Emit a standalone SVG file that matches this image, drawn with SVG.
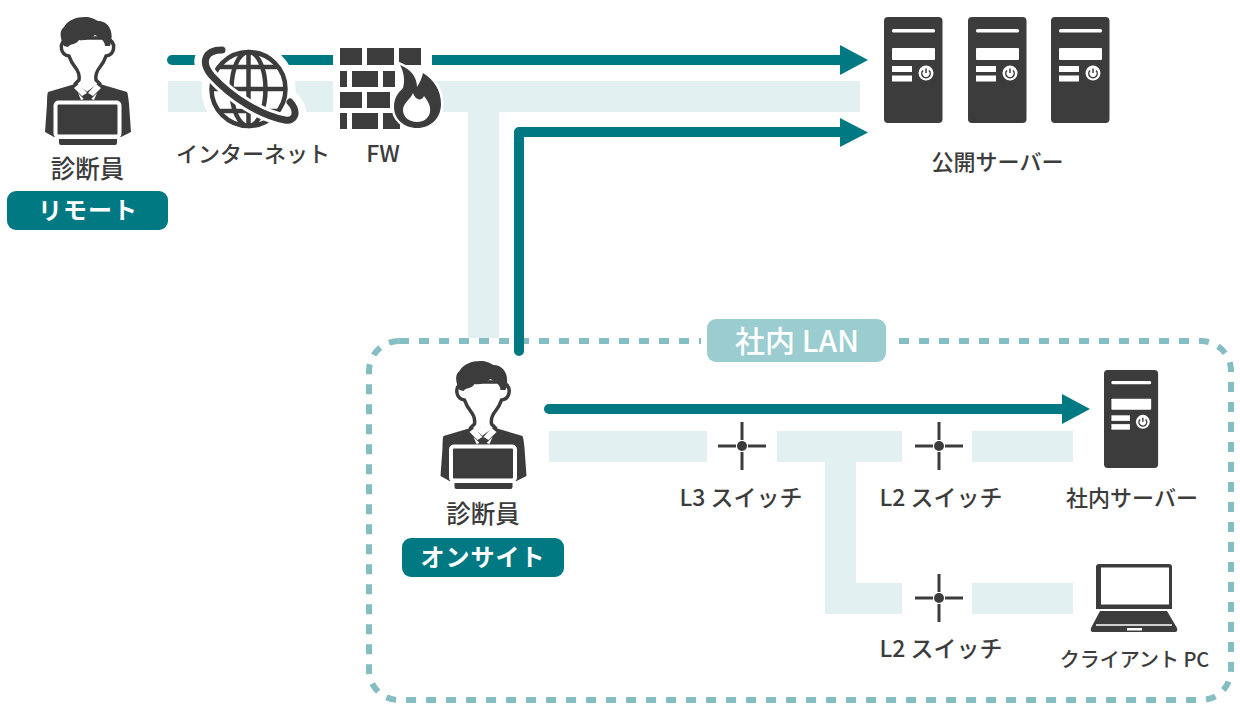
<svg xmlns="http://www.w3.org/2000/svg" xmlns:xlink="http://www.w3.org/1999/xlink" width="1240" height="718" viewBox="0 0 1240 718">
<style>
text{font-family:"Noto Sans CJK JP","Noto Sans",sans-serif;font-weight:500;fill:#3c3c3c;text-anchor:middle}
.lbl{font-size:22px}
.sw{font-size:23px}
.tag{font-size:24px;fill:#fff;font-weight:700;letter-spacing:1px}
.d{fill:#3c3c3c}
.w{fill:#fff}
.band{fill:#e3f0f1}
.flow{fill:none;stroke:#007983;stroke-width:10}
.head{fill:#007983}
.pill{fill:#007983}
</style>
<defs>
<g id="person">
<path class="d" d="M48,92 L75,84 L87,94 L100,84 L127,92 Q128,94 129,104 L131,132 L121,137 H54 L45,132 L47,104 Q47,94 48,92Z"/>
<path class="d" d="M59,139 H117 V143 Q117,145 115,145 H61 Q59,145 59,143Z"/>
<path d="M69,38 Q60,41 61.500,49 Q62.500,55 69,56 Q71,62 75,67 Q80,73 79,80 L75,84 L87,94 L100,84 L96,80 Q95,73 100,67 Q104,62 106,56 Q112.500,55 113.500,49 Q115,41 106,38Z" fill="#fff" stroke="#3c3c3c" stroke-width="3.500" stroke-linejoin="round"/>
<path class="d" d="M64,46 C59,36 60,30 64,27 C68,20 76,17 85,17 C91,17 94,19 98,21 C108,21 115,31 110,46 L105,46 C105,43 103,40 100,38 L95,35 C90,39 84,41 79,40 C78,42 75,44 70,45 L68,47Z"/>
<path class="w" d="M74,88 L79,84 L87,93 L82,96Z M101,88 L96,84 L88,93 L93,96Z M78,93 L81,100 L84,99Z M97,93 L94,100 L91,99Z"/>
<path class="d" d="M85,94 H90 L92,101 H83Z"/>
<rect x="55.500" y="102.500" width="64" height="34" rx="3" fill="#3c3c3c" stroke="#fff" stroke-width="4"/>
</g>
<g id="server">
<rect class="d" x="0" y="0" width="58.500" height="106" rx="4"/>
<rect class="w" x="8" y="12" width="43" height="3.500" rx="1.500"/>
<rect class="w" x="8" y="31" width="43" height="12" rx="1"/>
<rect class="w" x="8" y="49" width="20" height="6"/>
<rect class="w" x="8" y="58.500" width="20" height="6"/>
<circle class="w" cx="42" cy="56" r="7.500"/>
<path d="M39,53.500 A4.200,4.200 0 1 0 45,53.500 M42,51.500 V56" fill="none" stroke="#3c3c3c" stroke-width="1.500"/>
</g>
<g id="switch">
<circle class="d" cx="0" cy="0" r="5"/>
<path d="M-24,0 H-6 M6,0 H24 M0,-24 V-6 M0,6 V24" fill="none" stroke="#3c3c3c" stroke-width="3"/>
</g>
</defs>

<rect x="0" y="0" width="1240" height="718" fill="#fff"/>

<g id="lan">
<rect x="369" y="341" width="862" height="359" rx="30" fill="none" stroke="#84bdc2" stroke-width="6" stroke-dasharray="10 10"/>
</g>

<g id="connectors">
<rect class="band" x="168" y="81" width="692" height="31"/>
<rect class="band" x="468" y="112" width="31" height="226"/>
<rect class="band" x="549" y="431" width="158" height="31"/>
<rect class="band" x="777" y="431" width="125" height="31"/>
<rect class="band" x="972" y="431" width="101" height="31"/>
<rect class="band" x="825" y="462" width="31" height="152"/>
<rect class="band" x="856" y="583" width="46" height="31"/>
<rect class="band" x="972" y="583" width="101" height="31"/>
<path class="flow" stroke-linecap="round" d="M172,60 H842"/>
<path class="head" d="M840,45 L868,60 L840,75Z"/>
<path class="flow" stroke-linecap="round" d="M519,351 V132 H842" stroke-linejoin="round"/>
<path class="head" d="M840,118 L868,132.500 L840,147Z"/>
<path class="flow" stroke-linecap="round" d="M549,409 H1064"/>
<path class="head" d="M1062,394 L1090,409 L1062,424Z"/>
</g>

<g id="lan-label">
<rect x="701" y="316" width="191" height="49" rx="12" fill="#fff"/>
<rect x="707" y="319" width="179" height="43" rx="9" fill="#9accd0"/>
<text x="797" y="352" style="fill:#fff;font-size:30px">社内 LAN</text>
</g>

<g id="remote-tester">
<use xlink:href="#person" href="#person"/>
<text class="lbl" x="87.500" y="178" style="font-size:24.500px">診断員</text>
<rect class="pill" x="7" y="191" width="161" height="39" rx="9"/>
<text class="tag" x="88" y="219">リモート</text>
</g>

<g id="internet">
<circle class="w" cx="248.500" cy="89" r="47"/>
<path d="M222,50 C205,50 200,62 212,76 C232,98 262,116 285,120 C295,122 299,112 290,102" fill="none" stroke="#fff" stroke-width="22" stroke-linecap="round"/>
<g fill="none" stroke="#3c3c3c" stroke-width="4.500">
<circle cx="248.500" cy="89" r="37"/>
<ellipse cx="248.500" cy="89" rx="17" ry="37"/>
<path d="M248.500,52 V126 M212,89 H285 M219,67 H278 M219,111 H278"/>
</g>
<path d="M222,50 C205,50 200,62 212,76 C232,98 262,116 285,120 C295,122 299,112 290,102" fill="none" stroke="#fff" stroke-width="13"/>
<path d="M222,50 C205,50 200,62 212,76 C232,98 262,116 285,120 C295,122 299,112 290,102" fill="none" stroke="#3c3c3c" stroke-width="7" stroke-linecap="round"/>
<text class="lbl" x="253" y="162">インターネット</text>
</g>

<g id="fw">
<rect class="w" x="333" y="44" width="99" height="90"/>
<path class="d" d="M340,48h22v17h-22z M367,48h27v17h-27z M399,48h22v17h-22z M340,71h7v16h-7z M352,71h26v16h-26z M383,71h12v16h-12z M340,92h22v16h-22z M367,92h23v16h-23z M340,113h7v16h-7z M352,113h26v16h-26z M383,113h17v16h-17z"/>
<path d="M400,65 C412,70 417,78 417,87 C420,82 422,78 423,73 C434,80 441,90 441,104 C441,118 431,128 417,128 C404,128 394,119 394,107 C394,98 398,93 403,88 C405,81 404,72 400,65Z" fill="#3c3c3c" stroke="#fff" stroke-width="5" paint-order="stroke"/>
<path class="w" d="M413,93 C416,101 422,101 424,96 C428,101 431,106 430,112 C429,118 424,122 417,122 C409,122 403,117 403,110 C403,103 410,100 413,93Z"/>
<text class="sw" x="383" y="162">FW</text>
</g>

<g id="public-servers">
<use xlink:href="#server" href="#server" x="884" y="17"/>
<use xlink:href="#server" href="#server" x="968" y="17"/>
<use xlink:href="#server" href="#server" x="1051" y="17"/>
<text class="lbl" x="997.500" y="170">公開サーバー</text>
</g>

<g id="onsite-tester">
<use xlink:href="#person" href="#person" x="395.500" y="344"/>
<text class="lbl" x="483" y="523" style="font-size:24.500px">診断員</text>
<rect class="pill" x="402" y="538" width="162" height="39" rx="9"/>
<text class="tag" x="483" y="566">オンサイト</text>
</g>

<g id="l3-switch">
<use xlink:href="#switch" href="#switch" x="742" y="446"/>
<text class="sw" x="741" y="506">L3 スイッチ</text>
</g>
<g id="l2-switch-a">
<use xlink:href="#switch" href="#switch" x="939" y="446"/>
<text class="sw" x="941" y="506">L2 スイッチ</text>
</g>
<g id="l2-switch-b">
<use xlink:href="#switch" href="#switch" x="939" y="598"/>
<text class="sw" x="941" y="657">L2 スイッチ</text>
</g>

<g id="lan-server">
<use xlink:href="#server" href="#server" transform="translate(1104 370) scale(.925)"/>
<text class="lbl" x="1132" y="506">社内サーバー</text>
</g>

<g id="client-pc">
<path class="d" d="M1096,611 V567 Q1096,564 1099,564 H1169 Q1172,564 1172,567 V609 H1096Z"/>
<rect class="w" x="1101" y="567.500" width="68" height="37"/>
<path class="d" d="M1100,611 H1167 L1177,628 Q1178,632 1175,632 H1093 Q1090,632 1091,628Z"/>
<path d="M1096,625 H1172" stroke="#fff" stroke-width="1.500"/>
<rect class="w" x="1127" y="628" width="15" height="2.500"/>
<text x="1134.500" y="667" style="font-size:20px">クライアント PC</text>
</g>
</svg>
